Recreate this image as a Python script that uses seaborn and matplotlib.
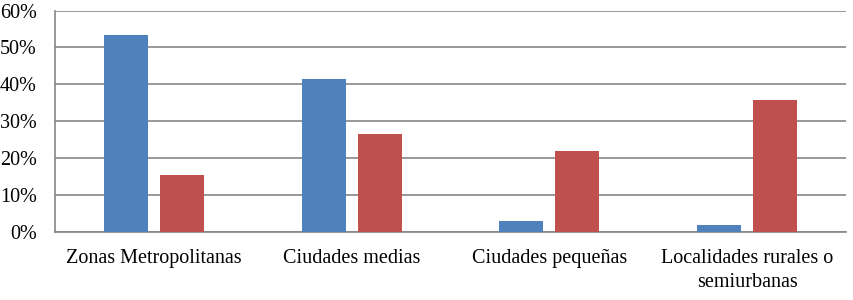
import pandas as pd
import seaborn as sns
import matplotlib.pyplot as plt
from matplotlib.ticker import PercentFormatter

# categorias del eje x
categorias = ['Zonas Metropolitanas', 'Ciudades medias', 'Ciudades pequeñas',
              'Localidades rurales o\nsemiurbanas']
serie_azul = [53.5, 41.5, 3.0, 1.9]
serie_roja = [15.5, 26.7, 22.1, 35.7]
series = ['Serie 1', 'Serie 2']
colores = ['#4F81BD', '#C0504D']

df = pd.DataFrame({
    'categoria': categorias * 2,
    'valor': serie_azul + serie_roja,
    'serie': [series[0]] * len(categorias) + [series[1]] * len(categorias),
})

sns.set_style('white')
plt.rcParams['font.family'] = ['Liberation Serif', 'DejaVu Serif']

fig, ax = plt.subplots(figsize=(8.54, 3.0), dpi=100)
fig.subplots_adjust(left=0.0644, right=0.9906, top=0.965, bottom=0.2257)

sns.barplot(data=df, x='categoria', y='valor', hue='serie', palette=colores,
            width=0.566, gap=0.214, legend=False, saturation=1,
            linewidth=0, ax=ax, zorder=3)

ax.set_ylim(0, 60)
ax.set_yticks(range(0, 61, 10))
ax.yaxis.set_major_formatter(PercentFormatter(decimals=0))
ax.grid(axis='y', color='#868686', linewidth=1.2, zorder=0)
ax.set_axisbelow(True)

for s in ['top', 'right']:
    ax.spines[s].set_visible(False)
for s in ['left', 'bottom']:
    ax.spines[s].set_color('#868686')
    ax.spines[s].set_linewidth(1.2)

ax.tick_params(axis='both', length=0, labelsize=14.5, colors='black')
ax.tick_params(axis='x', pad=12)
ax.tick_params(axis='y', pad=13)
for lbl in ax.get_xticklabels():
    lbl.set_linespacing(1.35)
ax.set_xlabel('')
ax.set_ylabel('')

fig.savefig('out.png', dpi=100)
